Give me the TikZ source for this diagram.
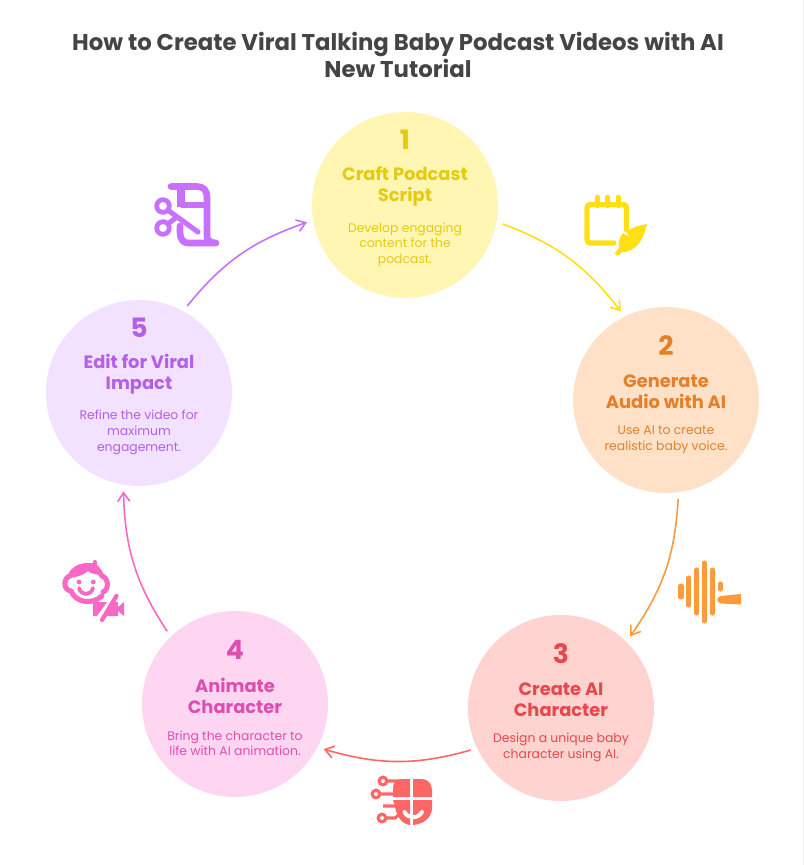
\documentclass[tikz,border=0pt]{standalone}
\usepackage{fontspec}
\setmainfont{Poppins}
\usetikzlibrary{arrows.meta,bending,calc}
\definecolor{yfill}{HTML}{FFF6B3}\definecolor{ytext}{HTML}{E4CB12}\definecolor{yline}{HTML}{FFE014}
\definecolor{ofill}{HTML}{FFE1C7}\definecolor{otext}{HTML}{E5802A}\definecolor{oline}{HTML}{FF9A3C}
\definecolor{rfill}{HTML}{FFD3D0}\definecolor{rtext}{HTML}{E5484D}\definecolor{rline}{HTML}{FF6666}
\definecolor{pfill}{HTML}{FFD6F1}\definecolor{ptext}{HTML}{DD4FAF}\definecolor{pline}{HTML}{F968C4}
\definecolor{vfill}{HTML}{F3E2FF}\definecolor{vtext}{HTML}{B45FE6}\definecolor{vline}{HTML}{C870FF}
\definecolor{titlecol}{HTML}{444444}
\tikzset{
  stepcircle/.style={circle,minimum size=139.5pt,inner sep=0pt,outer sep=4.9pt},
  numlabel/.style={align=center,inner sep=0pt,font=\fontsize{20}{22}\selectfont\bfseries},
  headlabel/.style={align=center,inner sep=0pt,font=\fontsize{13.4}{15.75}\selectfont\bfseries},
  desclabel/.style={align=center,inner sep=0pt,font=\fontsize{9.3}{11.7}\selectfont},
  flowline/.style={line width=1.2pt,-{Straight Barb[length=6.5pt,width=9pt,bend]},bend left=16},
  iconline/.style={line cap=round,line join=round},
}
% name, cx, cy, fill, text, number, heading, description, extra offset of number and heading
\newcommand{\stepitem}[9]{%
  \node[stepcircle,fill=#4] (#1) at (#2,#3) {};%
  \node[numlabel,text=#5] (#1num) at ($(#1)+(0,-54+#9)$) {#6};%
  \node[headlabel,text=#5] (#1head) at ($(#1)+(0,-8+#9)$) {#7};%
  \node[desclabel,text=#5] (#1desc) at ($(#1)+(0,39.5)$) {#8};%
}
\begin{document}
\begin{tikzpicture}[x=0.75pt,y=-0.75pt]
\useasboundingbox (0,0) rectangle (804,865);
\fill[white] (0,0) rectangle (804,865);
\fill[black!7] (803,0) rectangle (804,865);
\node[align=center,text=titlecol,font=\fontsize{17.1}{20}\selectfont\bfseries] (title) at (398,55) {How to Create Viral Talking Baby Podcast Videos with AI\\New Tutorial};
\stepitem{na}{405}{205}{yfill}{ytext}{1}{Craft Podcast\\Script}{Develop engaging\\content for the\\podcast.}{-11}
\stepitem{nb}{666}{400}{ofill}{otext}{2}{Generate\\Audio with AI}{Use AI to create\\realistic baby voice.}{0}
\stepitem{nc}{561}{708}{rfill}{rtext}{3}{Create AI\\Character}{Design a unique baby\\character using AI.}{0}
\stepitem{nd}{235}{704}{pfill}{ptext}{4}{Animate\\Character}{Bring the character to\\life with AI animation.}{0}
\stepitem{ne}{139}{393}{vfill}{vtext}{5}{Edit for Viral\\Impact}{Refine the video for\\maximum\\engagement.}{-11}
\draw[flowline,yline] (na.-11) to (nb.117);
\draw[flowline,oline] (nb.-83) to (nc.46);
\draw[flowline,rline] (nc.205) to (nd.-27);
\draw[flowline,pline] (nd.133) to (ne.-99);
\draw[flowline,vline] (ne.61) to (na.190);
% icon 1: notepad and feather
\begin{scope}[yline,iconline]
\draw[line width=3.9pt] (626.5,230) -- (626.5,208) .. controls (626.5,205.5) and (625.5,204.5) .. (623,204.5) -- (590.5,204.5) .. controls (588,204.5) and (587,205.5) .. (587,208) -- (587,239.5) .. controls (587,242) and (588,243) .. (590.5,243) -- (614,243);
\draw[line width=3.4pt] (597.3,197) -- (597.3,206) (607.7,197) -- (607.7,206) (618.3,197) -- (618.3,206);
\fill (647,224) .. controls (637,226) and (630,228) .. (627,232) -- (628,236) -- (623,233) .. controls (619,238) and (618,243) .. (619,248) -- (615,253) .. controls (616,257) and (619,256) .. (622,252) .. controls (637,252) and (644,238) .. (647,224) -- cycle;
\end{scope}
% icon 2: waveform
\begin{scope}[oline,iconline,line width=3.8pt]
\draw (681,586) -- (681,597);
\draw (688.7,578) -- (688.7,605);
\draw (696.7,570) -- (696.7,613);
\draw (704.3,563) -- (704.3,621);
\draw (712.3,570) -- (712.3,613);
\draw (720.3,584) -- (720.3,589);
\fill (741,594) -- (741,604.5) -- (721,603.5) .. controls (716,602.5) and (716,597) .. (721,596) -- cycle;
\end{scope}
% icon 3: circuit head
\begin{scope}[rline]
\fill (410,779) -- (402,779) .. controls (396,779) and (393,783) .. (393,788) -- (393,797) -- (410,797) -- cycle;
\fill (413,779) -- (422,779) .. controls (428,779) and (432,784) .. (432,790) -- (432,797) -- (413,797) -- cycle;
\fill (393,800) -- (410,800) -- (410,825) .. controls (402,824) and (396,816) .. (395,806) -- cycle;
\fill (413,800) -- (432,800) -- (432,809) .. controls (431,818) and (424,824) .. (413,825) -- cycle;
\draw[white,line width=3pt,line cap=round] (404.5,812) .. controls (408,819) and (418,819) .. (422,812);
\draw[line width=2.3pt] (388,781) -- (400,781) (381,794) -- (394,794) (383,806) -- (400,806) (387,818) -- (395,818) -- (401,813);
\draw[line width=2.4pt] (383,781) circle[radius=3.8] (376,794) circle[radius=3.8] (382,818) circle[radius=3.8];
\end{scope}
% icon 4: baby face and muted camera
\begin{scope}[pline,iconline]
\draw[line width=3.8pt] (102,596) .. controls (92,605) and (76,603) .. (71,591) .. controls (63,590) and (63,578) .. (70,576) .. controls (75,563) and (97,563) .. (102,576) .. controls (109,578) and (109,590) .. (103,592);
\fill (68,578) .. controls (71,566) and (80,563) .. (88,563) -- (92,563) .. controls (98,564) and (101,568) .. (103,575) .. controls (95,575) and (90,573) .. (88,571) .. controls (84,575) and (78,577) .. (68,578) -- cycle;
\draw[line width=3pt] (95,562) -- (95,566);
\fill (79,582) circle[radius=2.4] (93.3,582) circle[radius=2.4];
\draw[line width=2.8pt] (79,588) .. controls (81,596) and (91,596) .. (93,588);
\fill (93,602) -- (107,602) -- (97,616) -- (93,616) -- cycle;
\fill (113,602) -- (118,602) -- (118,616) -- (105,616) -- cycle;
\fill (118,607) -- (124,602) -- (124,616) -- (118,611) -- cycle;
\draw[line width=3.2pt] (116.5,596) -- (102,620);
\end{scope}
% icon 5: script and scissors
\begin{scope}[vline,iconline]
\draw[line width=5pt] (171,186.5) -- (197,186.5) .. controls (204,186.5) and (207,191) .. (207,197) -- (207,236) .. controls (207,240) and (210,243) .. (216,243) -- (188,243) .. controls (183,243) and (180,239) .. (180,232) -- (180,226);
\draw[line width=6pt,line cap=butt] (181,187) -- (181,207);
\draw[line width=4.5pt,line cap=butt] (181,204.5) -- (207,204.5);
\draw[line width=3.6pt] (163,206) circle[radius=6.3] (163,228) circle[radius=6.3];
\draw[line width=3.8pt] (169,211) -- (198,232);
\draw[line width=3.8pt] (169,223) -- (177,217);
\end{scope}
\end{tikzpicture}
\end{document}
